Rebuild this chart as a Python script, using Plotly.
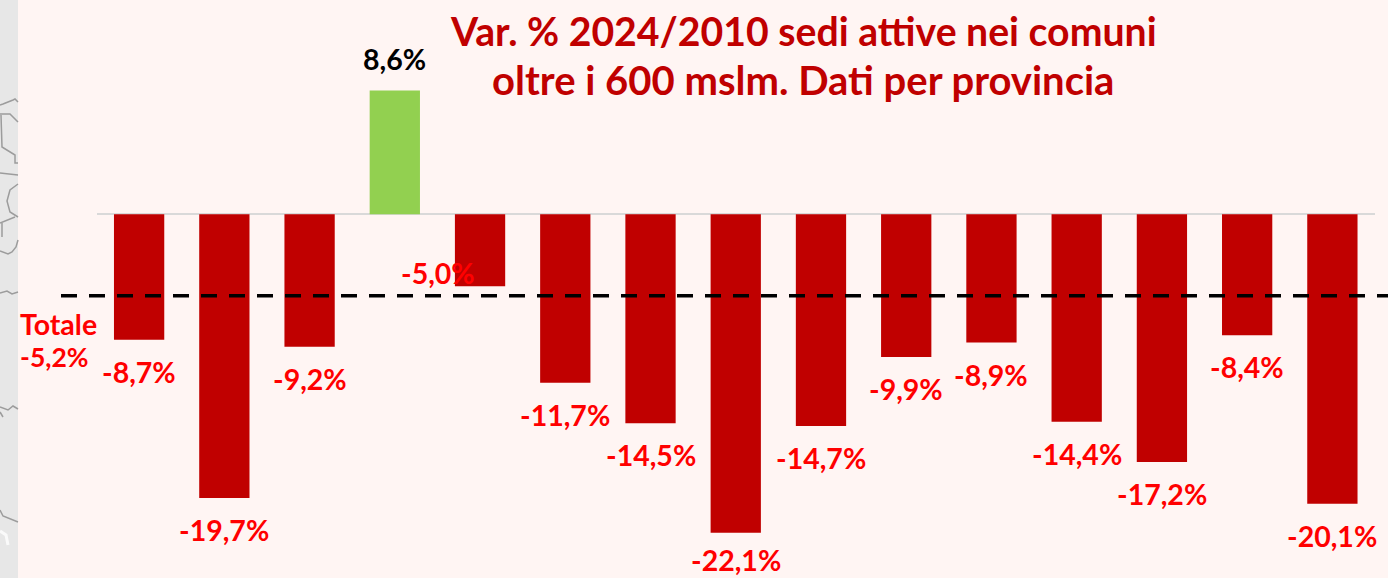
import plotly.graph_objects as go

W, H = 1388, 578
province_slots = [f"P{i}" for i in range(1, 16)]
values = [-8.7, -19.7, -9.2, 8.6, -5.0, -11.7, -14.5, -22.1, -14.7, -9.9, -8.9, -14.4, -17.2, -8.4, -20.1]
total_name = "Totale"
total_value_label = "-5,2%"
total_line_position = -5.65
title_lines = ["Var. % 2024/2010 sedi attive nei comuni", "oltre i 600 mslm. Dati per provincia"]

RED, GREEN, LABEL_RED = "#C00000", "#92D050", "#FF0000"
BG, STRIP = "#FFF5F3", "#E7E7E7"
FONT = "Lato"
Y_TOP, Y_BOTTOM = 14.88, -25.25

# grey map outlines of the background picture at the left edge, in page pixels
map_lines = [
    [(0, 105), (3, 104), (8, 102), (13, 100), (15, 99), (18, 102)],
    [(0, 114), (10, 114), (18, 122)],
    [(1, 115), (2, 147), (15, 155), (15, 163), (18, 163)],
    [(0, 173), (18, 175)],
    [(18, 184), (10, 190), (7, 201), (10, 212), (18, 217)],
    [(0, 223), (15, 217)],
    [(2, 223), (2, 237)],
    [(0, 251), (8, 254), (12, 252), (16, 247), (18, 240)],
    [(0, 293), (7, 291), (12, 294), (18, 292)],
    [(0, 407), (8, 410), (13, 406), (18, 409)],
    [(0, 412), (3, 417)],
    [(0, 510), (3, 516), (18, 522)],
]
map_highlight = [(0, 531), (6, 535), (8, 545)]


def label(v):
    return f"{v:.1f}".replace(".", ",") + "%"


fig = go.Figure(go.Bar(
    x=province_slots, y=values, width=0.59,
    marker=dict(color=[GREEN if v > 0 else RED for v in values], line_width=0),
    hoverinfo="skip",
))

anns = []
for c, v in zip(province_slots, values):
    if v > 0:
        a = dict(x=c, y=v, yshift=31, text=label(v), font=dict(color="black"))
    elif c == "P5":
        a = dict(x=c, y=v, xshift=-42, yshift=13, text=label(v), font=dict(color=LABEL_RED))
    elif c == "P8":
        a = dict(x=c, y=v, yshift=-27.5, text=label(v), font=dict(color=LABEL_RED))
    else:
        a = dict(x=c, y=v, yshift=-32, text=label(v), font=dict(color=LABEL_RED))
    a.update(xref="x", yref="y", showarrow=False, xanchor="center", yanchor="middle")
    a["font"].update(family=FONT, size=28.5, weight="bold")
    anns.append(a)


def paper_text(text, x, y, size, color, anchor="center"):
    return dict(text=text, xref="paper", yref="paper", x=x / W, y=1 - y / H, showarrow=False,
                xanchor=anchor, yanchor="middle",
                font=dict(family=FONT, size=size, color=color, weight="bold"))


anns += [
    paper_text(total_name, 18, 323.5, 28.5, LABEL_RED, "left"),
    paper_text(total_value_label, 18, 357, 26.5, LABEL_RED, "left"),
    paper_text(title_lines[0], 803, 30, 39.2, RED),
    paper_text(title_lines[1], 803, 80.5, 40, RED),
]


def page_path(points):
    return "M" + " L".join(f"{x / W:.5f},{1 - y / H:.5f}" for x, y in points)


shapes = [dict(type="rect", xref="paper", yref="paper", x0=0, x1=18 / W, y0=0, y1=1,
               fillcolor=STRIP, line_width=0, layer="below")]
shapes += [dict(type="path", xref="paper", yref="paper", path=page_path(p),
                line=dict(color="#9C9C9C", width=1.5), layer="below") for p in map_lines]
shapes.append(dict(type="path", xref="paper", yref="paper", path=page_path(map_highlight),
                   line=dict(color="#FAFAFA", width=3), layer="below"))
shapes.append(dict(type="line", xref="paper", yref="y", x0=61 / W, x1=1,
                   y0=total_line_position, y1=total_line_position,
                   line=dict(color="black", width=3.5, dash="16px,12px")))

fig.update_layout(
    width=W, height=H, margin=dict(l=0, r=0, t=0, b=0, pad=0),
    paper_bgcolor=BG, plot_bgcolor="rgba(0,0,0,0)", showlegend=False,
    xaxis=dict(domain=[96.5 / W, 1375 / W], range=[-0.5, 14.5], autorange=False,
               showticklabels=False, showgrid=False, ticks="",
               showline=False, zeroline=False, fixedrange=True),
    yaxis=dict(domain=[0, 1], range=[Y_BOTTOM, Y_TOP], showticklabels=False, showgrid=False, ticks="",
               showline=False, zeroline=True, zerolinecolor="#D9D9D9", zerolinewidth=2, fixedrange=True),
    annotations=anns, shapes=shapes,
)
fig.write_html("out.html", config={"displayModeBar": False},
               post_script="document.body.style.margin='0';document.body.style.overflow='hidden';")
